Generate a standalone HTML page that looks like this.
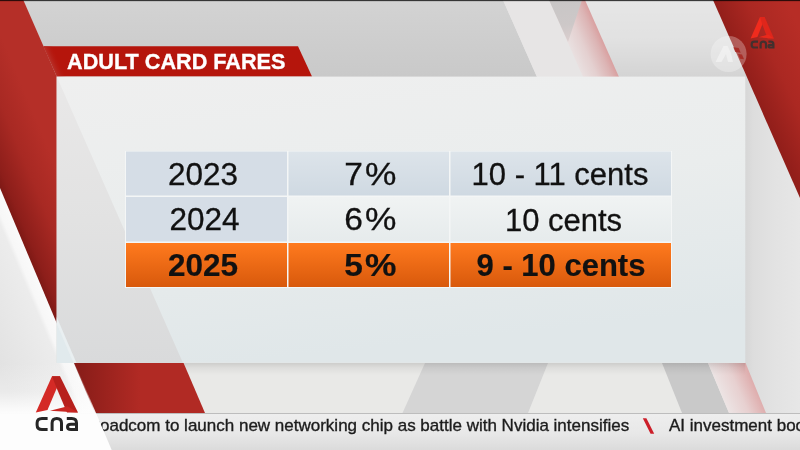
<!DOCTYPE html>
<html>
<head>
<meta charset="utf-8">
<title>Adult Card Fares</title>
<style>
html,body{margin:0;padding:0;width:800px;height:450px;overflow:hidden;background:#e6e6e6;}
body{position:relative;font-family:"Liberation Sans",sans-serif;}
#wrap{position:absolute;left:0;top:0;width:800px;height:450px;overflow:hidden;filter:blur(0.45px);}
#bg{position:absolute;left:0;top:0;width:800px;height:450px;display:block;}
.t{position:absolute;white-space:nowrap;line-height:1;}
#title{left:67px;top:51px;font-size:22.5px;font-weight:bold;color:#fff;transform-origin:0 0;transform:scaleX(0.962);letter-spacing:0px;-webkit-text-stroke:0.35px #fff;}
.cell{position:absolute;text-align:center;color:#111;-webkit-text-stroke:0.3px #111;font-size:31px;line-height:1;white-space:nowrap;}
.b{font-weight:bold;-webkit-text-stroke:0.2px #111;}
.c1{font-size:31.5px;}
.d{display:inline-block;transform:scaleX(1.08);transform-origin:50% 50%;margin-right:3px;}
.p{display:inline-block;transform:scaleX(1.14);transform-origin:50% 50%;margin-left:2px;}
#ticker{position:absolute;left:0;top:414px;width:800px;height:36px;overflow:hidden;}
.tk{position:absolute;top:3px;font-size:17px;color:#1c1c1c;white-space:nowrap;line-height:1;-webkit-text-stroke:0.35px #1c1c1c;}
</style>
</head>
<body>
<div id="wrap">
<svg id="bg" width="800" height="450" viewBox="0 0 800 450">
<defs>
<linearGradient id="gTop" x1="0" y1="0" x2="0" y2="1">
<stop offset="0" stop-color="#d3d3d3"/><stop offset="1" stop-color="#c9c9c9"/>
</linearGradient>
<linearGradient id="gRedL" gradientUnits="userSpaceOnUse" x1="20.0" y1="235.6" x2="75.3" y2="212.4">
<stop offset="0" stop-color="#7e1915"/><stop offset="0.12" stop-color="#8d1e1a"/><stop offset="0.55" stop-color="#a82923"/><stop offset="1" stop-color="#b52f28"/>
</linearGradient>
<linearGradient id="gRedR" gradientUnits="userSpaceOnUse" x1="735" y1="60" x2="800" y2="30">
<stop offset="0" stop-color="#8f1d19"/><stop offset="0.5" stop-color="#ab2822"/><stop offset="1" stop-color="#b72d26"/>
</linearGradient>
<linearGradient id="gRedB" gradientUnits="userSpaceOnUse" x1="80" y1="0" x2="140" y2="0">
<stop offset="0" stop-color="#8a1d19"/><stop offset="1" stop-color="#b12a24"/>
</linearGradient>
<linearGradient id="gPink" gradientUnits="userSpaceOnUse" x1="549" y1="0" x2="579.2" y2="-13.3">
<stop offset="0" stop-color="#e9e0e0"/><stop offset="0.4" stop-color="#e4d0d0"/><stop offset="0.8" stop-color="#dcb4b4"/><stop offset="1" stop-color="#d9a0a0"/>
</linearGradient>
<linearGradient id="gGrayTri" gradientUnits="userSpaceOnUse" x1="560" y1="0" x2="568" y2="42">
<stop offset="0" stop-color="#c8c6c6"/><stop offset="0.6" stop-color="#cdc8c8"/><stop offset="1" stop-color="#dccfcf"/>
</linearGradient>
<linearGradient id="gPinkB" gradientUnits="userSpaceOnUse" x1="708" y1="363" x2="739.5" y2="349.1">
<stop offset="0" stop-color="#ece3e3"/><stop offset="0.5" stop-color="#e7d0d0"/><stop offset="1" stop-color="#deabab"/>
</linearGradient>
<linearGradient id="gPanel" x1="0" y1="0" x2="0.25" y2="1">
<stop offset="0" stop-color="#efefef"/><stop offset="0.5" stop-color="#eaeded"/><stop offset="1" stop-color="#e0e7e9"/>
</linearGradient>
<linearGradient id="gPanelTri" x1="0" y1="0" x2="0" y2="1">
<stop offset="0" stop-color="#e9e8e8"/><stop offset="0.5" stop-color="#e2e2e2"/><stop offset="1" stop-color="#d9dadb"/>
</linearGradient>
<linearGradient id="gShadB" x1="0" y1="0" x2="0" y2="1">
<stop offset="0" stop-color="#000" stop-opacity="0.12"/><stop offset="0.4" stop-color="#000" stop-opacity="0.05"/><stop offset="1" stop-color="#000" stop-opacity="0"/>
</linearGradient>
<linearGradient id="gFold" gradientUnits="userSpaceOnUse" x1="50" y1="61" x2="58.2" y2="57.4">
<stop offset="0" stop-color="#b8312a" stop-opacity="1"/><stop offset="1" stop-color="#b5150c" stop-opacity="0"/>
</linearGradient>
<linearGradient id="gTick" x1="0" y1="0" x2="0" y2="1">
<stop offset="0" stop-color="#eeeeee"/><stop offset="0.55" stop-color="#e8e8e8"/><stop offset="1" stop-color="#dbdbdb"/>
</linearGradient>
<linearGradient id="gShadT" x1="0" y1="0" x2="0" y2="1">
<stop offset="0" stop-color="#000" stop-opacity="0"/><stop offset="0.5" stop-color="#000" stop-opacity="0.02"/><stop offset="1" stop-color="#000" stop-opacity="0.08"/>
</linearGradient>
<linearGradient id="gOrange" x1="0" y1="0" x2="0" y2="1">
<stop offset="0" stop-color="#ff7a1e"/><stop offset="1" stop-color="#d8590c"/>
</linearGradient>
<linearGradient id="gCellB" x1="0" y1="0" x2="0" y2="1">
<stop offset="0" stop-color="#dde4ea"/><stop offset="1" stop-color="#cfd9e2"/>
</linearGradient>
<linearGradient id="gCellW" x1="0" y1="0" x2="0" y2="1">
<stop offset="0" stop-color="#f0f3f3"/><stop offset="1" stop-color="#e6ebec"/>
</linearGradient>
<linearGradient id="gShadR" x1="0" y1="0" x2="1" y2="0">
<stop offset="0" stop-color="#d6d6d6"/><stop offset="0.15" stop-color="#dddddd"/><stop offset="0.5" stop-color="#e2e2e2"/><stop offset="1" stop-color="#e7e7e7"/>
</linearGradient>
<linearGradient id="gWhiteL" gradientUnits="userSpaceOnUse" x1="20.0" y1="235.6" x2="-44.5" y2="262.7">
<stop offset="0" stop-color="#fafafa"/><stop offset="0.14" stop-color="#f7f7f7"/><stop offset="0.2" stop-color="#ececec"/><stop offset="1" stop-color="#e2e2e2"/>
</linearGradient>
</defs>

<!-- base -->
<rect x="0" y="0" width="800" height="450" fill="#e6e6e6"/>

<!-- top band -->
<polygon points="23,0 503,0 537,77 57,77" fill="url(#gTop)"/>
<polygon points="503,0 549,0 583,77 537,77" fill="#e7e5e5"/>
<polygon points="549,0 585,0 619,77 583,77" fill="url(#gPink)"/>
<polygon points="549,0 582,0 568,42" fill="url(#gGrayTri)"/>

<polygon points="585,0 713,0 746.9,77 619,77" fill="url(#gShadT)"/>
<!-- right of panel -->

<!-- bottom strip under panel -->
<rect x="57" y="363" width="743" height="50" fill="#e9e9e7"/>
<rect x="745" y="77" width="55" height="336" fill="url(#gShadR)"/>
<polygon points="425,363 548,363 528,413 402.5,413" fill="#d5d5d5"/>
<polygon points="662,363 708,363 729,413 682,413" fill="#c9c9c9"/>
<polygon points="708,363 745.6,363 766,413 729,413" fill="url(#gPinkB)"/>

<polygon points="183.6,363 745.3,363 745.3,375 188.8,375" fill="url(#gShadB)"/>
<!-- top-right red -->
<polygon points="713,0 800,0 800,198" fill="url(#gRedR)"/>

<!-- left red -->
<polygon points="0,0 23.3,0 57,77 57,363 0,363" fill="url(#gRedL)"/>
<!-- left white wedge -->
<polygon points="0,188 110,450 0,450" fill="url(#gWhiteL)"/>

<!-- bottom red parallelogram -->
<polygon points="74,363 183.6,363 205,413 95,413" fill="url(#gRedB)"/>

<!-- title bar -->
<polygon points="43.5,46.3 298,46.3 312,76.6 57,76.6" fill="#b5150c"/>

<polygon points="43.5,46.3 53.5,46.3 67,76.6 57,76.6" fill="url(#gFold)"/>
<!-- panel -->
<rect x="56.7" y="76.6" width="688.6" height="286" fill="url(#gPanel)"/>
<polygon points="56.7,76.6 183,363 56.7,363" fill="url(#gPanelTri)"/>
<polygon points="56.7,320 75,363 56.7,363" fill="#e1eaed"/>
<polygon points="56.7,317 76.5,363 73.5,363 56.7,323.5" fill="#e9eff1"/>

<!-- table -->
<rect x="125" y="151" width="547" height="137" fill="#f4f6f6"/>
<rect x="126" y="151.5" width="161" height="44" fill="#d5dde6"/>
<rect x="126" y="197" width="161" height="44.5" fill="#d5dde6"/>
<rect x="288.5" y="151.5" width="160.5" height="44" fill="url(#gCellB)"/>
<rect x="288.5" y="197" width="160.5" height="44.5" fill="url(#gCellW)"/>
<rect x="450.5" y="151.5" width="220.5" height="44" fill="url(#gCellB)"/>
<rect x="450.5" y="197" width="220.5" height="44.5" fill="url(#gCellW)"/>
<rect x="126" y="243" width="161" height="44" fill="url(#gOrange)"/>
<rect x="288.5" y="243" width="160.5" height="44" fill="url(#gOrange)"/>
<rect x="450.5" y="243" width="220.5" height="44" fill="url(#gOrange)"/>

<!-- ticker -->
<rect x="0" y="413" width="800" height="37" fill="url(#gTick)"/>
<rect x="0" y="413" width="800" height="1" fill="#bdbdbd"/>
</svg>

<div class="t" id="title">ADULT CARD FARES</div>

<div class="cell c1" style="left:122.5px;top:159px;width:161px;">2023</div>
<div class="cell" style="left:289px;top:159px;width:161px;"><span class="d">7</span><span class="p">%</span></div>
<div class="cell" style="left:449.5px;top:159px;width:221px;">10 - 11 cents</div>
<div class="cell c1" style="left:124px;top:204px;width:161px;">2024</div>
<div class="cell" style="left:289px;top:204px;width:161px;"><span class="d">6</span><span class="p">%</span></div>
<div class="cell" style="left:453px;top:204.5px;width:221px;">10 cents</div>
<div class="cell c1 b" style="left:122.5px;top:249.5px;width:161px;">2025</div>
<div class="cell b" style="left:289px;top:250px;width:161px;"><span class="d">5</span><span class="p">%</span></div>
<div class="cell b" style="left:450.5px;top:250px;width:221px;">9 - 10 cents</div>

<div id="ticker">
<div class="tk" style="left:83px;">Broadcom to launch new networking chip as battle with Nvidia intensifies</div>
<div class="tk" style="left:669px;">AI investment boom</div>
</div>
<svg id="fg" width="800" height="450" viewBox="0 0 800 450" style="position:absolute;left:0;top:0;">
<defs>
<linearGradient id="gWedge" gradientUnits="userSpaceOnUse" x1="0" y1="363" x2="0" y2="420">
<stop offset="0" stop-color="#fdfdfd" stop-opacity="0"/><stop offset="0.5" stop-color="#fdfdfd" stop-opacity="0.3"/><stop offset="0.8" stop-color="#fdfdfd" stop-opacity="0.85"/><stop offset="0.9" stop-color="#fdfdfd" stop-opacity="1"/><stop offset="1" stop-color="#fdfdfd" stop-opacity="1"/>
</linearGradient>
</defs>
<!-- white wedge under logo -->
<polygon points="0,363 74.8,363 111.7,450 0,450" fill="url(#gWedge)"/>
<!-- ticker separator slash -->
<polygon points="642.8,418.3 646.4,418.3 654.2,433.7 650.6,433.7" fill="#cc1f2a"/>

<!-- bottom-left logo -->
<g id="logoBL">
<polygon points="35.8,412.5 52,376.3 60,376.3 56.7,388.3 47.5,410 " fill="#d42a26"/>
<polygon points="52,376.3 60,376.3 78,412.5 67,412.5 56.7,388.3" fill="#b7201c"/>
<polygon points="78,412.5 50,410.8 65.8,406.7 67.5,406.2" fill="#c92622"/>
<g fill="none" stroke="#262626" stroke-width="3" stroke-linecap="butt" stroke-linejoin="round">
<path d="M47.6,418.5 H42 Q37.1,418.5 37.1,423 V425 Q37.1,429.5 42,429.5 H47.6"/>
<path d="M52.1,431 V423 Q52.1,418.5 56.8,418.5 Q61.5,418.5 61.5,423 V431"/>
<path d="M66.8,418.5 H71.8 Q76.5,418.5 76.5,423 V431 M76.5,424.3 H71 Q67.5,424.3 67.5,426.9 Q67.5,429.5 71,429.5 H76.5"/>
</g>
</g>

<!-- top-right logo -->
<g id="logoTR">
<polygon points="750.6,38.4 760,17 764.6,17 762.3,24.5 757.4,37" fill="#f02b1d"/>
<polygon points="760,17 764.6,17 774,38.4 767.6,38.4 762.3,24.5" fill="#df261b"/>
<polygon points="774,38.4 758.6,37.3 767,34.8 768.2,34.5" fill="#ea291c"/>
<g fill="none" stroke="#43302e" stroke-width="2.2" stroke-linejoin="round">
<path d="M758,41.7 H754.6 Q751.7,41.7 751.7,44 V45.2 Q751.7,47.5 754.6,47.5 H758"/>
<path d="M760.6,48.6 V44.2 Q760.6,41.7 763.3,41.7 Q766,41.7 766,44.2 V48.6"/>
<path d="M768.4,41.7 H770.8 Q773.4,41.7 773.4,44.2 V48.6 M773.4,44.9 H770.4 Q768.5,44.9 768.5,46.2 Q768.5,47.5 770.4,47.5 H773.4"/>
</g>
</g>

<rect x="0" y="0" width="800" height="1" fill="#000" fill-opacity="0.75"/><rect x="0" y="1" width="800" height="1" fill="#000" fill-opacity="0.1"/>
<!-- watermark circle -->
<circle cx="728.6" cy="54" r="18" fill="#ffffff" fill-opacity="0.28"/>
<g fill="#ffffff" fill-opacity="0.4">
<polygon points="715.5,62 723.5,46 727.5,46 731,53 733,62 728,62 726,54 721.5,62"/>
</g>
<polygon points="733.3,47.3 738.7,48 740.7,52.7 735.3,52" fill="#a72620" fill-opacity="0.85"/>
<polygon points="738,54 742,54.4 744,59.3 740,58.7" fill="#a72620" fill-opacity="0.85"/>
</svg>
</div>
</body>
</html>
